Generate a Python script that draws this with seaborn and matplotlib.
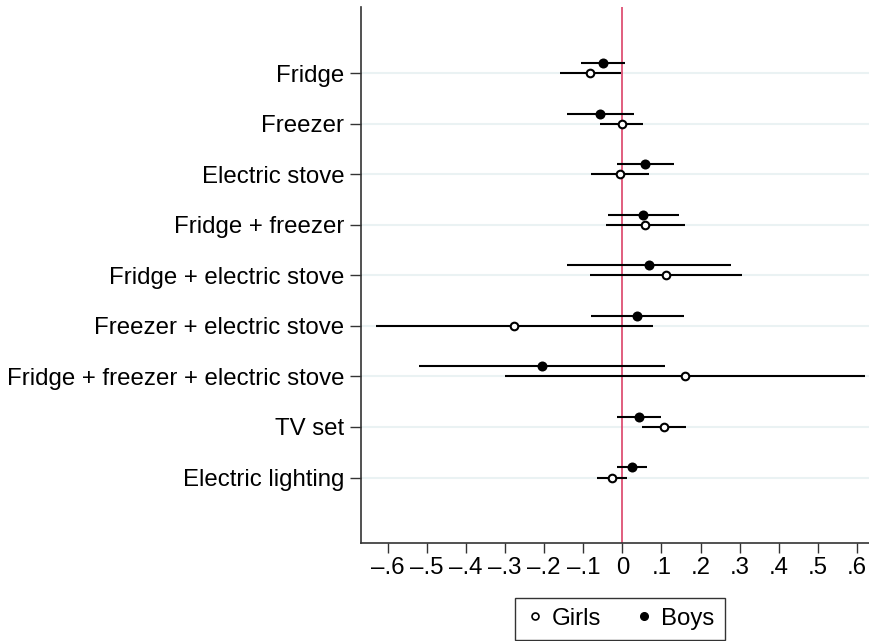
import numpy as np
import pandas as pd
import seaborn as sns
import matplotlib.pyplot as plt
from matplotlib.lines import Line2D
from matplotlib.ticker import FuncFormatter

items = ['Fridge', 'Freezer', 'Electric stove', 'Fridge + freezer',
         'Fridge + electric stove', 'Freezer + electric stove',
         'Fridge + freezer + electric stove', 'TV set', 'Electric lighting']

# point estimates and confidence bounds
boys_coef = [-0.050, -0.057, 0.057, 0.054, 0.068, 0.038, -0.205, 0.043, 0.024]
boys_lo = [-0.106, -0.142, -0.014, -0.037, -0.141, -0.081, -0.519, -0.014, -0.015]
boys_hi = [0.006, 0.029, 0.131, 0.146, 0.277, 0.157, 0.110, 0.100, 0.064]

girls_coef = [-0.082, -0.002, -0.007, 0.059, 0.112, -0.276, 0.160, 0.106, -0.026]
girls_lo = [-0.159, -0.057, -0.079, -0.043, -0.083, -0.631, -0.301, 0.051, -0.064]
girls_hi = [-0.003, 0.054, 0.067, 0.161, 0.307, 0.079, 0.621, 0.162, 0.011]

xticks = [-0.6, -0.5, -0.4, -0.3, -0.2, -0.1, 0, 0.1, 0.2, 0.3, 0.4, 0.5, 0.6]

sns.set_style('white')
plt.rcParams['font.family'] = ['Liberation Sans', 'DejaVu Sans']
plt.rcParams['text.color'] = 'black'
plt.rcParams['xtick.color'] = 'black'
plt.rcParams['ytick.color'] = 'black'

pos = np.arange(1, len(items) + 1)
df = pd.concat([
    pd.DataFrame({'item': items, 'group': 'Boys', 'coef': boys_coef,
                  'lo': boys_lo, 'hi': boys_hi, 'y': pos - 0.2}),
    pd.DataFrame({'item': items, 'group': 'Girls', 'coef': girls_coef,
                  'lo': girls_lo, 'hi': girls_hi, 'y': pos}),
])

fig = plt.figure(figsize=(8.7, 6.41), dpi=100)
ax = fig.add_axes([0.415, 0.1533, 0.585, 0.836])

# grid lines at each category
for p in pos:
    ax.axhline(p, color='#eaf2f3', lw=1.5, zorder=0)

ax.axvline(0, color='#d8315b', lw=1.1, zorder=1)

# confidence intervals
ax.hlines(df['y'], df['lo'], df['hi'], color='black', lw=1.5, zorder=2)

# point estimates
boys = df[df['group'] == 'Boys']
girls = df[df['group'] == 'Girls']
sns.scatterplot(data=boys, x='coef', y='y', ax=ax, color='black', s=52,
                marker='o', edgecolor='black', linewidth=0, zorder=3, legend=False)
sns.scatterplot(data=girls, x='coef', y='y', ax=ax, color='white', s=30,
                marker='o', edgecolor='black', linewidth=1.5, zorder=3, legend=False)

ax.set_xlim(-0.668, 0.633)
ax.set_ylim(10.29, -0.31)
ax.set_yticks(pos)
ax.set_yticklabels(items)
ax.set_xticks(xticks)


def fmt(v, _):
    if abs(v) < 1e-9:
        return '0'
    s = f'{abs(v):.1f}'.lstrip('0')
    return ('\u2013' if v < 0 else '') + s


ax.xaxis.set_major_formatter(FuncFormatter(fmt))
ax.set_xlabel('')
ax.set_ylabel('')

for side in ['top', 'right']:
    ax.spines[side].set_visible(False)
for side in ['left', 'bottom']:
    ax.spines[side].set_color('#333333')
    ax.spines[side].set_linewidth(1.2)

ax.tick_params(axis='y', left=True, length=8, width=1, labelsize=17.3, pad=4,
               color='#333333', labelcolor='black')
ax.tick_params(axis='x', bottom=True, length=7, width=1, labelsize=17.3, pad=3,
               color='#333333', labelcolor='black')

handles = [Line2D([], [], marker='o', ls='none', markerfacecolor='white',
                  markeredgecolor='black', markeredgewidth=1.2, markersize=5),
           Line2D([], [], marker='o', ls='none', markerfacecolor='black',
                  markeredgecolor='black', markersize=5.5)]
leg = fig.legend(handles, ['Girls', 'Boys'], loc='lower center',
                 bbox_to_anchor=(0.7126, 0.0), ncol=2, frameon=True,
                 fancybox=False, edgecolor='black', fontsize=17.3,
                 handletextpad=0.3, columnspacing=1.4, borderpad=0.42,
                 handlelength=0.8, borderaxespad=0.05)
leg.get_frame().set_linewidth(1.0)

fig.savefig('out.png', dpi=100)
